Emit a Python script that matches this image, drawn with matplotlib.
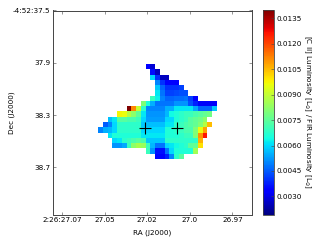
import numpy as np
import matplotlib
matplotlib.use('Agg')
import matplotlib.pyplot as plt

n = np.nan

# ratio map in units of 1e-4, north at the top, RA decreasing to the right
row_00 = [n]*10 + [34, 28] + [n]*13
row_01 = [n]*11 + [36, 26] + [n]*12
row_02 = [n]*11 + [60, 40, 26, 26] + [n]*10
row_03 = [n]*12 + [50, 40, 33, 33, 34] + [n]*8
row_04 = [n]*12 + [58, 46, 40, 40, 40, 42] + [n]*7
row_05 = [n]*12 + [62, 48, 42, 42, 43, 44, 44] + [n]*6
row_06 = [n]*11 + [70, 63, 50, 46, 46, 47, 47, 48, 42, 34] + [n]*4
row_07 = [n]*9 + [80, 65, 55, 48, 48, 48, 48, 52, 52, 52, 44, 38, 32, 32, 32, 32]
row_08 = [n]*6 + [140, 112, 90, 68, 50, 50, 50, 50, 55, 55, 62, 62, 62, 62, 54, 46, 46, 46, 58]
row_09 = [n]*4 + [97, 96, 88, 82, 75, 62, 52, 52, 52, 52, 56, 64, 66, 68, 70, 70, 72, 74, 76, 78, n]
row_10 = [n]*2 + [57, 62, 74, 74, 72, 72, 70, 60, 53, 53, 53, 53, 60, 60, 66, 68, 70, 74, 76, 78, 82, n, n]
row_11 = [n] + [45, 50, 60, 68, 68, 68, 68, 68, 58, 57, 57, 57, 57, 62, 62, 68, 70, 72, 74, 76, 80, 88, 105, n]
row_12 = [50, 55, 56, 60, 68, 68, 68, 68, 68, 60, 60, 60, 60, 60, 66, 66, 68, 70, 72, 72, 80, 96, 108, n, n]
row_13 = [n]*2 + [62, 66, 66, 66, 66, 66, 66, 62, 62, 62, 62, 62, 66, 66, 66, 68, 70, 70, 80, 110, 126, n, n]
row_14 = [n]*3 + [60, 62, 68, 70, 72, 74, 72, 58, 58, 58, 58, 68, 68, 68, 68, 68, 68, 68, 106, n, n, n]
row_15 = [n]*3 + [52, 52, 54, 70, 82, 86, 84, 70, 56, 48, 48, 60, 62, 64, 66, 68, 75, 76, 100, n, n, n]
row_16 = [n]*10 + [70, 52, 36, 36, 48, 60, 66, 66, 66, 66, 85] + [n]*4
row_17 = [n]*12 + [33, 33, 38, 50, 68, 74] + [n]*7
ratio = 1e-4 * np.array([row_00, row_01, row_02, row_03, row_04, row_05, row_06, row_07, row_08,
                         row_09, row_10, row_11, row_12, row_13, row_14, row_15, row_16, row_17])

ra_left, ra_right = 27.0753, 26.9588
dec_top, dec_bottom = 37.5, 39.06
map_ra = (27.0487, 26.9793)
map_dec = (38.638, 37.9145)

cross_ra = [27.0215, 27.0025]
cross_dec = [38.40, 38.40]

ra_ticks = [27.07, 27.045, 27.02, 26.995, 26.97]
ra_labels = ['2:26:27.07', '27.05', '27.02', '27.0', '26.97']
dec_ticks = [37.5, 37.9, 38.3, 38.7]
dec_labels = ['-4:52:37.5', '37.9', '38.3', '38.7']
cbar_ticks = [0.0030, 0.0045, 0.0060, 0.0075, 0.0090, 0.0105, 0.0120, 0.0135]

plt.rcParams['font.size'] = 5.2
edge = '#444444'

fig = plt.figure(figsize=(3.2, 2.4), dpi=100)
ax = fig.add_axes([53/320, 1 - 214.5/240, 198.5/320, 204/240])
im = ax.imshow(ratio, cmap='jet', vmin=0.0019, vmax=0.0140, aspect='auto', interpolation='nearest',
               extent=(map_ra[0], map_ra[1], map_dec[0], map_dec[1]))
ax.plot(cross_ra, cross_dec, '+', color='black', ms=8.5, mew=0.8)
ax.set_xlim(ra_left, ra_right)
ax.set_ylim(dec_bottom, dec_top)
ax.set_xticks(ra_ticks)
ax.set_xticklabels(ra_labels)
ax.set_yticks(dec_ticks)
ax.set_yticklabels(dec_labels)
ax.tick_params(direction='in', top=True, right=True, length=2, width=0.4, pad=2, color=edge)
for s in ax.spines.values():
    s.set_linewidth(0.7)
    s.set_color(edge)
ax.set_xlabel('RA (J2000)')
ax.set_ylabel('Dec (J2000)')
ax.xaxis.set_label_coords(0.5, -0.072)
ax.yaxis.set_label_coords(-0.19, 0.5)

cax = fig.add_axes([263/320, 1 - 215/240, 11/320, 205/240])
cb = fig.colorbar(im, cax=cax)
cb.set_ticks(cbar_ticks)
cb.set_ticklabels(['%.4f' % t for t in cbar_ticks])
cb.ax.tick_params(direction='in', length=2, width=0.4, pad=2, color=edge)
cb.outline.set_linewidth(0.6)
cb.outline.set_edgecolor(edge)
cb.set_label(r'[C II] Luminosity [L$_{\odot}$] / FIR Luminosity [L$_{\odot}$]', rotation=270, labelpad=7.5)

fig.savefig('out.png', dpi=100)
